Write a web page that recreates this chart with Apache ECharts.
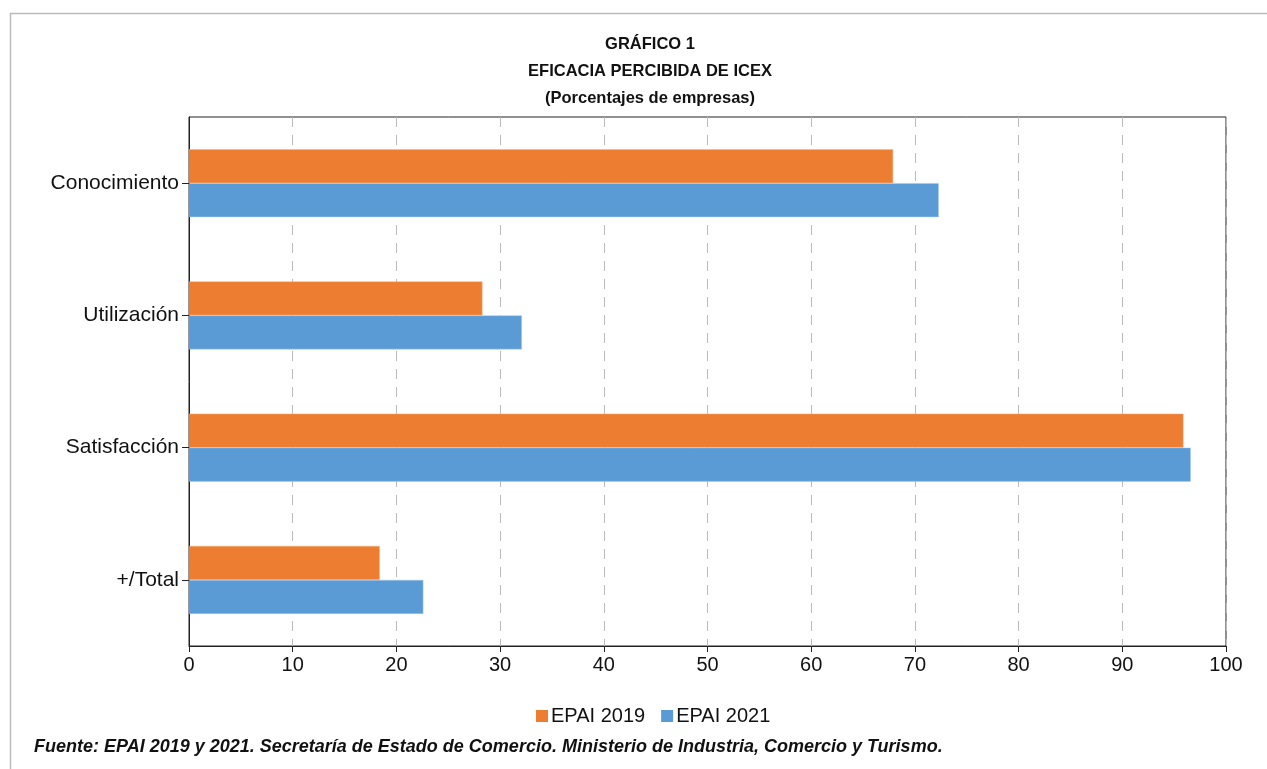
<!DOCTYPE html>
<html>
<head>
<meta charset="utf-8">
<script src="https://cdn.jsdelivr.net/npm/echarts@6/dist/echarts.min.js"></script>
<style>
  html, body { margin: 0; padding: 0; background: #fff; }
  #chart { width: 1267px; height: 769px; }
</style>
</head>
<body>
<div id="chart"></div>
<script>
// chart data
const categories = ["Conocimiento", "Utilización", "Satisfacción", "+/Total"];
const epai2019 = [67.9, 28.3, 95.9, 18.4];
const epai2021 = [72.3, 32.1, 96.6, 22.6];
const seriesNames = ["EPAI 2019", "EPAI 2021"];

const font = "'Liberation Sans', Arial, Helvetica, sans-serif";
const chart = echarts.init(document.getElementById("chart"));

chart.setOption({
  backgroundColor: "#fff",
  color: ["#ED7D31", "#5B9BD5"],
  textStyle: { fontFamily: font },
  title: {
    text: "GRÁFICO 1\nEFICACIA PERCIBIDA DE ICEX\n(Porcentajes de empresas)",
    left: 645,
    textAlign: "center",
    top: 26,
    textStyle: { fontFamily: font, fontSize: 16.5, fontWeight: "bold", color: "#111", lineHeight: 27 },
  },
  legend: {
    data: seriesNames,
    left: 531,
    top: 701,
    itemWidth: 12,
    itemHeight: 12,
    itemGap: 16,
    icon: "rect",
    itemStyle: { borderWidth: 0 },
    textStyle: { fontFamily: font, fontSize: 20, color: "#111", padding: [0, 0, 0, -2] },
  },
  grid: {
    left: 189, right: 41, top: 117, bottom: 123,
    show: true, borderColor: "#222", borderWidth: 1,
  },
  xAxis: {
    type: "value",
    min: 0, max: 100, interval: 10,
    axisLine: { show: true, lineStyle: { color: "#222", width: 1 } },
    axisTick: { show: true, length: 6, lineStyle: { color: "#222" } },
    axisLabel: { color: "#111", fontSize: 20, margin: 9, fontFamily: font },
    splitLine: { show: true, lineStyle: { color: "#bbb", type: [10, 8], width: 1 } },
  },
  yAxis: {
    type: "category",
    data: categories,
    inverse: true,
    axisLine: { lineStyle: { color: "#222", width: 1 } },
    axisTick: { show: true, alignWithLabel: true, length: 7, lineStyle: { color: "#222" } },
    axisLabel: { color: "#111", fontSize: 21, margin: 10, fontFamily: font, padding: [4, 0, 0, 0] },
  },
  series: [
    {
      name: seriesNames[0], type: "bar", data: epai2019,
      barWidth: 34, barGap: "0%",
      itemStyle: { borderColor: "#f6b68a", borderWidth: 0.5 },
    },
    {
      name: seriesNames[1], type: "bar", data: epai2021,
      barWidth: 34, barGap: "0%",
      itemStyle: { borderColor: "#a9cbeb", borderWidth: 0.5 },
    },
  ],
  graphic: [
    {
      type: "rect",
      shape: { x: 10.5, y: 13.5, width: 1300, height: 800 },
      style: { fill: "none", stroke: "#bbb", lineWidth: 1.5 },
      silent: true,
    },
    {
      type: "text",
      left: 34,
      top: 738,
      style: {
        text: "Fuente: EPAI 2019 y 2021. Secretaría de Estado de Comercio. Ministerio de Industria, Comercio y Turismo.",
        font: "italic bold 18px " + font,
        fill: "#111",
      },
    },
  ],
});
</script>
</body>
</html>
